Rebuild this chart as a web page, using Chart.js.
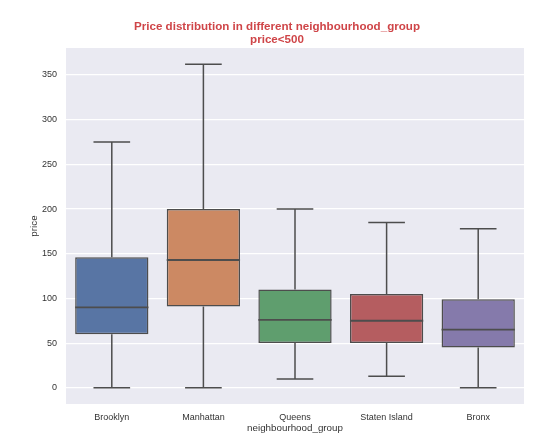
<!DOCTYPE html>
<html>
<head>
<meta charset="utf-8">
<script src="https://cdn.jsdelivr.net/npm/chart.js@4.4.0/dist/chart.umd.min.js"></script>
<style>
  html, body { margin: 0; padding: 0; background: #fff; }
  #wrap { width: 554px; height: 441px; }
</style>
</head>
<body>
<div id="wrap"><canvas id="price_box_chart"></canvas></div>
<script>
const groups = ['Brooklyn', 'Manhattan', 'Queens', 'Staten Island', 'Bronx'];
const whiskerLow = [0, 0, 10, 13, 0];
const q1 = [60, 91, 50, 50, 45];
const medians = [90, 143, 76, 75, 65];
const q3 = [146, 200, 110, 105, 99];
const whiskerHigh = [275, 362, 200, 185, 178];
const yTicks = [0, 50, 100, 150, 200, 250, 300, 350];

const boxColors = ['#5875a4', '#cc8963', '#5f9e6e', '#b55d60', '#857aab'];
const lineColor = '#4d4d4d';
const font = 'Liberation Sans, Arial, sans-serif';

// grey plot area like seaborn darkgrid
const plotBackground = {
  id: 'plotBackground',
  beforeDraw(chart) {
    const { ctx, chartArea: a } = chart;
    ctx.save();
    ctx.fillStyle = '#eaeaf2';
    ctx.fillRect(a.left, a.top, a.right - a.left, a.bottom - a.top);
    ctx.restore();
  }
};

// whiskers, caps and median lines drawn off the y scale
const boxParts = {
  id: 'boxParts',
  beforeDatasetsDraw(chart) {
    const { ctx } = chart;
    const y = chart.scales.y;
    const bars = chart.getDatasetMeta(0).data;
    ctx.save();
    ctx.strokeStyle = lineColor;
    ctx.lineWidth = 1.5;
    bars.forEach((bar, i) => {
      const half = bar.width / 4;
      ctx.beginPath();
      ctx.moveTo(bar.x, y.getPixelForValue(q3[i]));
      ctx.lineTo(bar.x, y.getPixelForValue(whiskerHigh[i]));
      ctx.moveTo(bar.x, y.getPixelForValue(q1[i]));
      ctx.lineTo(bar.x, y.getPixelForValue(whiskerLow[i]));
      ctx.moveTo(bar.x - half, y.getPixelForValue(whiskerHigh[i]));
      ctx.lineTo(bar.x + half, y.getPixelForValue(whiskerHigh[i]));
      ctx.moveTo(bar.x - half, y.getPixelForValue(whiskerLow[i]));
      ctx.lineTo(bar.x + half, y.getPixelForValue(whiskerLow[i]));
      ctx.stroke();
    });
    ctx.restore();
  },
  afterDatasetsDraw(chart) {
    const { ctx } = chart;
    const y = chart.scales.y;
    const bars = chart.getDatasetMeta(0).data;
    ctx.save();
    ctx.strokeStyle = lineColor;
    ctx.lineWidth = 1.8;
    bars.forEach((bar, i) => {
      const my = y.getPixelForValue(medians[i]);
      ctx.beginPath();
      ctx.moveTo(bar.x - bar.width / 2, my);
      ctx.lineTo(bar.x + bar.width / 2, my);
      ctx.stroke();
    });
    ctx.restore();
  }
};

new Chart('price_box_chart', {
  type: 'bar',
  data: {
    labels: groups,
    datasets: [{
      data: groups.map((g, i) => [q1[i], q3[i]]),
      backgroundColor: boxColors,
      borderColor: lineColor,
      borderWidth: 1.5,
      borderSkipped: false,
      barPercentage: 0.8,
      categoryPercentage: 1
    }]
  },
  options: {
    responsive: true,
    maintainAspectRatio: false,
    animation: false,
    layout: { padding: 0 },
    plugins: {
      legend: { display: false },
      tooltip: { enabled: false },
      title: {
        display: true,
        text: ['Price distribution in different neighbourhood_group', 'price<500'],
        color: '#cf4548',
        font: { family: font, size: 11.6, weight: 'bold', lineHeight: 1.1 },
        padding: { top: 20.5, bottom: 2 }
      }
    },
    scales: {
      x: {
        grid: { display: false, drawTicks: false },
        border: { display: false },
        ticks: { color: '#333', font: { family: font, size: 9 }, padding: 8 },
        title: {
          display: true,
          text: 'neighbourhood_group',
          color: '#333',
          font: { family: font, size: 9.8 },
          padding: { top: 7, bottom: 7 }
        },
        afterFit: s => { s.height = 37; }
      },
      y: {
        min: -18.1,
        max: 380.1,
        afterBuildTicks: s => { s.ticks = yTicks.map(v => ({ value: v })); },
        grid: { color: '#ffffff', lineWidth: 1.2, drawTicks: false },
        border: { display: false },
        ticks: { color: '#333', font: { family: font, size: 9 }, padding: 9 },
        title: {
          display: true,
          text: 'price',
          color: '#333',
          font: { family: font, size: 9.8 },
          padding: { top: 28, bottom: 28 }
        },
        afterFit: s => { s.width = 66; }
      },
      // empty right-hand axis that only holds the white margin
      yRight: {
        position: 'right',
        grid: { display: false, drawTicks: false },
        border: { display: false },
        ticks: { display: false },
        afterFit: s => { s.width = 30; }
      }
    }
  },
  plugins: [plotBackground, boxParts]
});
</script>
</body>
</html>
